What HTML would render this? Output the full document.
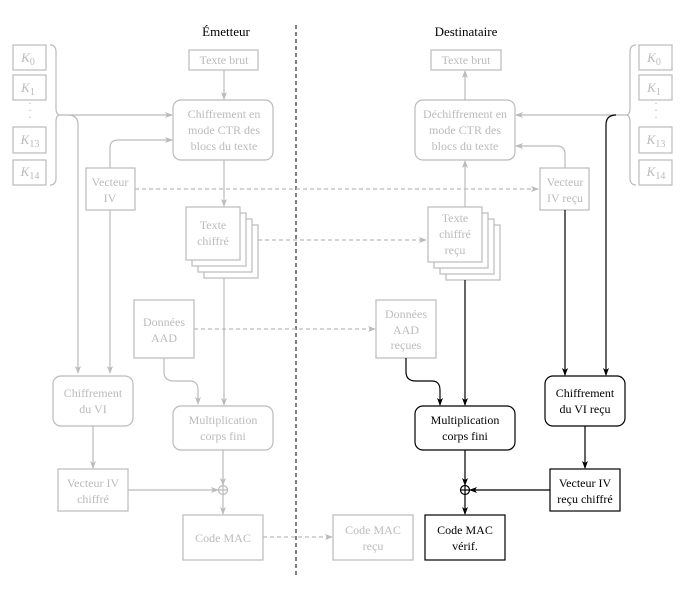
<!DOCTYPE html>
<html><head><meta charset="utf-8"><style>
html,body{margin:0;padding:0;background:#fff;}
svg{display:block;}
svg text{font-family:"Liberation Serif","Times New Roman",Times,"DejaVu Serif",serif;font-size:12px;text-anchor:middle;}
.g{fill:#bbb;}
.k{fill:#000;}
</style></head><body>
<svg width="684" height="596" viewBox="0 0 684 596" xmlns="http://www.w3.org/2000/svg">
<defs>
<marker id="ag" markerWidth="8" markerHeight="6" refX="7" refY="3" orient="auto" markerUnits="userSpaceOnUse"><path d="M0,0 L8,3 L0,6 L2,3z" fill="#bbb"/></marker>
<marker id="ak" markerWidth="8" markerHeight="6" refX="7" refY="3" orient="auto" markerUnits="userSpaceOnUse"><path d="M0,0 L8,3 L0,6 L2,3z" fill="#000"/></marker>
</defs>
<text x="226" y="36" class="k" style="font-size:13px">Émetteur</text>
<text x="466" y="36" class="k" style="font-size:13px">Destinataire</text>
<line x1="296" y1="25" x2="296" y2="576" stroke="#000" stroke-dasharray="4,3"/>

<g fill="none" stroke="#bbb" stroke-width="1.2">
<rect x="13" y="45" width="33" height="25"/><rect x="13" y="75" width="33" height="25"/>
<rect x="13" y="127" width="33" height="26"/><rect x="13" y="160" width="33" height="25"/>
<path d="M50,45 Q56,45 56,52 V108 Q56,115 60,115 Q56,115 56,122 V178 Q56,185 50,185"/>
<rect x="639" y="45" width="33" height="25"/><rect x="639" y="75" width="33" height="25"/>
<rect x="639" y="127" width="33" height="26"/><rect x="639" y="160" width="33" height="25"/>
<path d="M636,45 Q630,45 630,52 V108 Q630,115 626,115 Q630,115 630,122 V178 Q630,185 636,185"/>

<rect x="189" y="50" width="69" height="20"/>
<rect x="173" y="100" width="100" height="60" rx="8"/>
<line x1="224" y1="70" x2="224" y2="99" marker-end="url(#ag)"/>
<line x1="60" y1="115" x2="172" y2="115" marker-end="url(#ag)"/>
<path d="M68,115 Q78,115 78,125 V373" marker-end="url(#ag)"/>
<rect x="86" y="168" width="49" height="42"/>
<path d="M110,168 V148 Q110,140 118,140 H172" marker-end="url(#ag)"/>
<line x1="110" y1="210" x2="110" y2="373" marker-end="url(#ag)"/>
<line x1="135" y1="189" x2="538" y2="189" stroke-dasharray="4,3" marker-end="url(#ag)"/>
<line x1="224" y1="160" x2="224" y2="206" marker-end="url(#ag)"/>
<rect x="204" y="225" width="54" height="53" fill="#fff"/>
<rect x="198" y="219" width="54" height="53" fill="#fff"/>
<rect x="192" y="213" width="54" height="53" fill="#fff"/>
<rect x="186" y="207" width="54" height="53" fill="#fff"/>
<line x1="258" y1="240" x2="426" y2="240" stroke-dasharray="4,3" marker-end="url(#ag)"/>
<rect x="134" y="300" width="60" height="58"/>
<line x1="194" y1="329" x2="375" y2="329" stroke-dasharray="4,3" marker-end="url(#ag)"/>
<path d="M164,358 V372 Q164,381 174,381 H190 Q198,381 198,390 V404" marker-end="url(#ag)"/>
<line x1="224" y1="278" x2="224" y2="405" marker-end="url(#ag)"/>
<rect x="53" y="376" width="80" height="50" rx="8"/>
<rect x="173" y="406" width="100" height="44" rx="8"/>
<line x1="93" y1="426" x2="93" y2="468" marker-end="url(#ag)"/>
<rect x="58" y="469" width="70" height="42"/>
<line x1="128" y1="490" x2="218" y2="490" marker-end="url(#ag)"/>
<circle cx="223" cy="490" r="4.5"/><line x1="218.5" y1="490" x2="227.5" y2="490"/><line x1="223" y1="485.5" x2="223" y2="494.5"/>
<line x1="223" y1="450" x2="223" y2="485" marker-end="url(#ag)"/>
<line x1="223" y1="494.5" x2="223" y2="514" marker-end="url(#ag)"/>
<rect x="183" y="515" width="80" height="45"/>
<line x1="263" y1="537" x2="332" y2="537" stroke-dasharray="4,3" marker-end="url(#ag)"/>
<rect x="333" y="515" width="80" height="45"/>

<rect x="431" y="50" width="70" height="20"/>
<rect x="415" y="100" width="100" height="60" rx="8"/>
<line x1="465" y1="100" x2="465" y2="71" marker-end="url(#ag)"/>
<line x1="626" y1="115" x2="516" y2="115" marker-end="url(#ag)"/>
<rect x="540" y="168" width="49" height="42"/>
<path d="M565,168 V154 Q565,146 557,146 H516" marker-end="url(#ag)"/>
<line x1="465" y1="207" x2="465" y2="161" marker-end="url(#ag)"/>
<rect x="446" y="225" width="54" height="55" fill="#fff"/>
<rect x="440" y="219" width="54" height="55" fill="#fff"/>
<rect x="434" y="213" width="54" height="55" fill="#fff"/>
<rect x="428" y="207" width="54" height="55" fill="#fff"/>
<rect x="376" y="300" width="60" height="58"/>
</g>

<g fill="none" stroke="#000" stroke-width="1.2">
<path d="M616,115 Q606,115 606,125 V375" marker-end="url(#ak)"/>
<line x1="565" y1="210" x2="565" y2="375" marker-end="url(#ak)"/>
<path d="M406,358 V372 Q406,381 416,381 H432 Q440,381 440,390 V405" marker-end="url(#ak)"/>
<line x1="465" y1="280" x2="465" y2="405" marker-end="url(#ak)"/>
<rect x="415" y="406" width="100" height="44" rx="8"/>
<rect x="545" y="376" width="80" height="50" rx="8"/>
<line x1="585" y1="426" x2="585" y2="468" marker-end="url(#ak)"/>
<rect x="550" y="469" width="70" height="42"/>
<line x1="550" y1="490" x2="470" y2="490" marker-end="url(#ak)"/>
<circle cx="465" cy="490" r="4.5"/><line x1="460.5" y1="490" x2="469.5" y2="490"/><line x1="465" y1="485.5" x2="465" y2="494.5"/>
<line x1="465" y1="450" x2="465" y2="485" marker-end="url(#ak)"/>
<line x1="465" y1="494.5" x2="465" y2="514" marker-end="url(#ak)"/>
<rect x="425" y="515" width="80" height="45"/>
</g>

<g class="g" style="font-style:italic">
<text x="28" y="62" style="font-size:13px">K<tspan dy="3" style="font-style:normal;font-size:10px">0</tspan></text>
<text x="28" y="92" style="font-size:13px">K<tspan dy="3" style="font-style:normal;font-size:10px">1</tspan></text>
<text x="30" y="144" style="font-size:13px">K<tspan dy="3" style="font-style:normal;font-size:10px">13</tspan></text>
<text x="30" y="176" style="font-size:13px">K<tspan dy="3" style="font-style:normal;font-size:10px">14</tspan></text>
<text x="654" y="62" style="font-size:13px">K<tspan dy="3" style="font-style:normal;font-size:10px">0</tspan></text>
<text x="654" y="92" style="font-size:13px">K<tspan dy="3" style="font-style:normal;font-size:10px">1</tspan></text>
<text x="656" y="144" style="font-size:13px">K<tspan dy="3" style="font-style:normal;font-size:10px">13</tspan></text>
<text x="656" y="176" style="font-size:13px">K<tspan dy="3" style="font-style:normal;font-size:10px">14</tspan></text>
</g>
<g class="g">
<text x="30" y="107">·</text><text x="30" y="114">·</text><text x="30" y="121">·</text>
<text x="656" y="107">·</text><text x="656" y="114">·</text><text x="656" y="121">·</text>
<text x="224" y="64">Texte brut</text>
<text x="224" y="118">Chiffrement en</text><text x="224" y="134">mode CTR des</text><text x="224" y="150">blocs du texte</text>
<text x="110" y="186">Vecteur</text><text x="110" y="202">IV</text>
<text x="213" y="229">Texte</text><text x="213" y="245">chiffré</text>
<text x="164" y="326">Données</text><text x="164" y="342">AAD</text>
<text x="93" y="397">Chiffrement</text><text x="93" y="413">du VI</text>
<text x="223" y="424">Multiplication</text><text x="223" y="440">corps fini</text>
<text x="93" y="487">Vecteur IV</text><text x="93" y="503">chiffré</text>
<text x="223" y="542">Code MAC</text>
<text x="373" y="534">Code MAC</text><text x="373" y="550">reçu</text>
<text x="466" y="64">Texte brut</text>
<text x="465" y="118">Déchiffrement en</text><text x="465" y="134">mode CTR des</text><text x="465" y="150">blocs du texte</text>
<text x="565" y="186">Vecteur</text><text x="565" y="202">IV reçu</text>
<text x="455" y="222">Texte</text><text x="455" y="238">chiffré</text><text x="455" y="254">reçu</text>
<text x="406" y="318">Données</text><text x="406" y="334">AAD</text><text x="406" y="349">reçues</text>
</g>
<g class="k">
<text x="465" y="424">Multiplication</text><text x="465" y="440">corps fini</text>
<text x="585" y="397">Chiffrement</text><text x="585" y="413">du VI reçu</text>
<text x="585" y="487">Vecteur IV</text><text x="585" y="503">reçu chiffré</text>
<text x="465" y="534">Code MAC</text><text x="465" y="550">vérif.</text>
</g>
</svg>
</body></html>
